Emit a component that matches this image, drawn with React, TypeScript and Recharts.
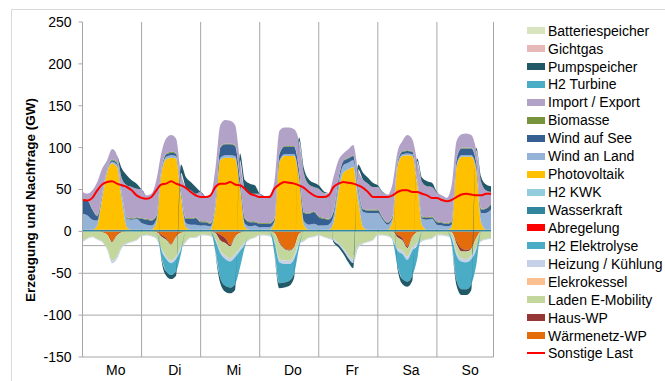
import { Area, CartesianGrid, ComposedChart, Line, XAxis, YAxis } from "recharts"

// hour of week, every 2 hours
const hours = Array.from({ length: 84 }, (_, i) => i * 2)
const dayNames = ["Mo", "Di", "Mi", "Do", "Fr", "Sa", "So"]
const dayLabelTicks = [13.5, 37.5, 61.5, 85.5, 109.5, 133.5, 157.5]
const dayBorders = [0, 24, 48, 72, 96, 120, 144, 167]
const yTicks = [-150, -100, -50, 0, 50, 100, 150, 200, 250]

// GW, one row per day, 0h..22h
const wasserkraft = [
  2, 2, 2, 2, 2, 2, 2, 2, 2, 2, 2, 2,
  2, 2, 2, 2, 2, 2, 2, 2, 2, 2, 2, 2,
  2, 2, 2, 2, 2, 2, 2, 2, 2, 2, 2, 2,
  2, 2, 2, 2, 2, 2, 2, 2, 2, 2, 2, 2,
  2, 2, 2, 2, 2, 2, 2, 2, 2, 2, 2, 2,
  2, 2, 2, 2, 2, 2, 2, 2, 2, 2, 2, 2,
  2, 2, 2, 2, 2, 2, 2, 2, 2, 2, 2, 2,
]
const photovoltaik = [
  0, 0, 0, 5, 37, 68, 79, 75, 35, 3, 0, 0,
  0, 0, 0, 8, 65, 84, 86, 85, 40, 3, 0, 0,
  0, 0, 0, 25, 83, 86, 86, 85, 50, 3, 0, 0,
  0, 0, 0, 8, 80, 88, 88, 88, 60, 5, 0, 0,
  0, 0, 0, 8, 45, 68, 72, 75, 35, 3, 0, 0,
  0, 0, 0, 10, 75, 88, 89, 88, 55, 5, 0, 0,
  0, 0, 0, 3, 75, 87, 87, 87, 70, 8, 0, 0,
]
const windLand = [
  19, 17, 12, 6, 3, 2, 2, 3, 6, 10, 12, 13,
  8, 6, 5, 4, 3, 3, 3, 3, 4, 5, 6, 6,
  5, 5, 4, 3, 3, 3, 3, 3, 3, 4, 4, 5,
  3, 3, 3, 2, 2, 2, 2, 2, 3, 5, 6, 7,
  5, 5, 6, 8, 10, 9, 8, 8, 12, 18, 20, 20,
  20, 12, 6, 4, 3, 2, 2, 2, 4, 8, 12, 13,
  6, 5, 4, 3, 3, 2, 2, 2, 4, 12, 20, 24,
]
const windSee = [
  17, 18, 12, 5, 2, 1, 2, 2, 1, 1, 1, 1,
  5, 6, 6, 4, 2, 3, 3, 3, 3, 5, 7, 8,
  4, 4, 3, 3, 12, 13, 13, 12, 8, 6, 5, 4,
  4, 4, 4, 3, 8, 9, 9, 9, 8, 10, 13, 14,
  10, 8, 6, 5, 5, 5, 5, 5, 4, 3, 3, 3,
  3, 2, 2, 2, 2, 3, 3, 3, 2, 2, 2, 2,
  3, 3, 3, 3, 6, 8, 8, 8, 6, 4, 5, 6,
]
const biomasse = [
  1, 1, 1, 1, 1, 1, 1, 1, 1, 1, 1, 1,
  1, 1, 1, 1, 1, 1, 1, 1, 1, 1, 1, 1,
  1, 1, 1, 1, 1, 1, 1, 1, 1, 1, 1, 1,
  1, 1, 1, 1, 1, 1, 1, 1, 1, 1, 1, 1,
  1, 1, 1, 1, 1, 1, 1, 1, 1, 1, 1, 1,
  1, 1, 1, 1, 1, 1, 1, 1, 1, 1, 1, 1,
  1, 1, 1, 1, 1, 1, 1, 1, 1, 1, 1, 1,
]
const importExport = [
  8, 7, 22, 40, 30, 11, 12, 8, 18, 38, 37, 34,
  34, 28, 31, 42, 20, 18, 20, 17, 20, 37, 33, 28,
  35, 30, 33, 41, 26, 28, 27, 24, 21, 33, 33, 33,
  35, 32, 33, 44, 27, 22, 22, 20, 34, 46, 34, 29,
  33, 30, 30, 41, 22, 8, 10, 12, 20, 35, 31, 27,
  27, 29, 33, 38, 12, 12, 18, 14, 20, 41, 37, 35,
  34, 32, 30, 43, 21, 16, 17, 15, 14, 32, 21, 14,
]
const pumpspeicher = [
  0, 0, 0, 0, 0, 0, 0, 0, 12, 12, 8, 6,
  0, 0, 0, 0, -3, -5, -5, -5, 10, 12, 10, 8,
  0, 0, 0, -2, -6, -7, -7, -7, 8, 12, 12, 10,
  0, 0, 0, -2, -6, -6, -6, -5, 4, 6, 6, 5,
  4, 2, 0, -2, -3, -4, -5, -6, 6, 8, 7, 5,
  2, 1, 0, 0, -4, -6, -6, -6, 3, 5, 6, 5,
  1, 0, 0, -1, -6, -7, -7, -7, 3, 6, 7, 7,
]
const waermenetzWp = [
  0, 0, 0, 0, -1, -4, -12, -4, -1, 0, 0, 0,
  0, 0, 0, -1, -4, -8, -15, -6, -2, 0, 0, 0,
  0, 0, 0, -1, -4, -8, -16, -6, -2, 0, 0, 0,
  0, 0, 0, -2, -12, -20, -22, -18, -3, 0, 0, 0,
  0, 0, 0, 0, 0, 0, 0, 0, 0, 0, 0, 0,
  0, 0, 0, 0, -4, -8, -18, -6, -1, 0, 0, 0,
  0, 0, 0, -1, -12, -20, -22, -20, -8, 0, 0, 0,
]
const hausWp = [
  0, 0, 0, 0, 0, 0, -1, -1, 0, 0, 0, 0,
  0, 0, 0, 0, -2, -2, -1, -1, 0, 0, 0, 0,
  0, 0, 0, -1, -7, -6, -2, -1, 0, 0, 0, 0,
  0, 0, 0, 0, -2, -1, -1, -1, 0, 0, 0, 0,
  0, 0, 0, 0, 0, 0, 0, 0, 0, 0, 0, 0,
  0, 0, 0, 0, -3, -3, -2, -1, 0, 0, 0, 0,
  0, 0, 0, 0, -3, -4, -2, -1, 0, 0, 0, 0,
]
const ladenEMobility = [
  -12, -8, -6, -9, -11, -16, -22, -25, -17, -14, -12, -10,
  -5, -4, -5, -7, -14, -20, -19, -23, -17, -12, -7, -7,
  -4, -4, -5, -7, -12, -15, -14, -20, -18, -13, -9, -7,
  -4, -4, -5, -9, -19, -14, -12, -10, -10, -11, -7, -6,
  -4, -6, -8, -9, -14, -20, -28, -34, -17, -14, -12, -10,
  -4, -4, -5, -9, -13, -12, -10, -12, -13, -11, -9, -8,
  -4, -4, -5, -5, -10, -8, -9, -8, -11, -11, -9, -8,
]
const heizungKuehlung = [
  -1, -1, -1, -1, -1, -2, -3, -3, -2, -1, -1, -1,
  -1, -1, -1, -1, -2, -3, -3, -3, -2, -1, -1, -1,
  -1, -1, -1, -2, -3, -4, -4, -4, -3, -2, -1, -1,
  -1, -1, -1, -2, -4, -4, -4, -4, -2, -1, -1, -1,
  -1, -1, -1, -2, -2, -3, -4, -4, -3, -1, -1, -1,
  -1, -1, -1, -1, -3, -4, -4, -4, -3, -1, -1, -1,
  -1, -1, -1, -2, -4, -4, -4, -4, -3, -1, -1, -1,
]
const h2Elektrolyse = [
  0, 0, 0, 0, 0, 0, 0, 0, 0, 0, 0, 0,
  0, 0, 0, 0, -8, -15, -14, -15, -6, 0, 0, 0,
  0, 0, 0, -12, -30, -32, -31, -32, -20, -3, 0, 0,
  0, 0, 0, -12, -25, -22, -20, -17, -5, 0, 0, 0,
  0, 0, 0, 0, 0, 0, 0, 0, 0, 0, 0, 0,
  0, 0, 0, -1, -18, -30, -26, -30, -16, 0, 0, 0,
  0, 0, 0, -6, -30, -33, -32, -30, -18, 0, 0, 0,
]
const sonstigeLast = [
  37.5, 37, 40, 49, 56, 59, 60, 57, 55, 53, 49, 43,
  40, 39, 41, 49, 56, 57, 60, 57, 55, 52, 47, 43,
  41, 41, 43, 53, 57, 57, 59, 56, 55, 51, 45, 43,
  41, 41, 41, 51, 56, 59, 58, 57, 55, 52, 47, 43,
  41, 41, 43, 53, 57, 59, 58, 57, 55, 52, 47, 41,
  41, 41, 41, 43, 47, 49, 49, 47, 47, 45, 43, 40,
  40, 37.5, 36, 37.5, 41, 44, 45, 44, 43, 43, 45, 45,
]

// drawing order: loads first (stack down from 0), then generation (stack up)
const areas = [
  { key: "waermenetzWp", color: "#e46c0a", values: waermenetzWp },
  { key: "hausWp", color: "#953735", values: hausWp },
  { key: "laden", color: "#c3d69b", values: ladenEMobility },
  { key: "heizung", color: "#c6d1e7", values: heizungKuehlung },
  { key: "h2Elektrolyse", color: "#4bacc6", values: h2Elektrolyse },
  { key: "wasserkraft", color: "#31859c", values: wasserkraft },
  { key: "pv", color: "#ffc000", values: photovoltaik },
  { key: "windLand", color: "#95b3d7", values: windLand },
  { key: "windSee", color: "#376092", values: windSee },
  { key: "biomasse", color: "#77933c", values: biomasse },
  { key: "import", color: "#b3a2c7", values: importExport },
  { key: "pump", color: "#215968", values: pumpspeicher },
]

const legendItems = [
  { name: "Batteriespeicher", color: "#d7e4bd" },
  { name: "Gichtgas", color: "#e6b9b8" },
  { name: "Pumpspeicher", color: "#215968" },
  { name: "H2 Turbine", color: "#4bacc6" },
  { name: "Import / Export", color: "#b3a2c7" },
  { name: "Biomasse", color: "#77933c" },
  { name: "Wind auf See", color: "#376092" },
  { name: "Wind an Land", color: "#95b3d7" },
  { name: "Photovoltaik", color: "#ffc000" },
  { name: "H2 KWK", color: "#93cddd" },
  { name: "Wasserkraft", color: "#31859c" },
  { name: "Abregelung", color: "#ff0000" },
  { name: "H2 Elektrolyse", color: "#4bacc6" },
  { name: "Heizung / Kühlung", color: "#c6d1e7" },
  { name: "Elekrokessel", color: "#fac090" },
  { name: "Laden E-Mobility", color: "#c3d69b" },
  { name: "Haus-WP", color: "#953735" },
  { name: "Wärmenetz-WP", color: "#e46c0a" },
  { name: "Sonstige Last", color: "#ff0000", line: true },
]

const rows = hours.map((h, i) => {
  const row: Record<string, number> = { h, sonstige: sonstigeLast[i] }
  areas.forEach((a) => {
    row[a.key] = a.values[i]
  })
  return row
})

const font = "'Liberation Sans', Arial, sans-serif"
const grid = "#a6a6a6"

export default function App() {
  return (
    <div style={{ position: "absolute", left: 0, top: 0, width: 665, height: 381, background: "#fff", fontFamily: font }}>
      <div style={{ position: "absolute", left: 11, top: 9, width: 654, height: 372, borderLeft: "1px solid #d9d9d9", borderTop: "1px solid #d9d9d9" }} />
      <ComposedChart
        width={665}
        height={381}
        data={rows}
        stackOffset="sign"
        margin={{ top: 22, right: 171.5, bottom: 0, left: 10 }}
      >
        <CartesianGrid stroke={grid} horizontalValues={[...yTicks, -17]} verticalValues={dayBorders} />
        <XAxis
          type="number"
          dataKey="h"
          domain={[0, 167]}
          ticks={dayLabelTicks}
          tickFormatter={(v: number) => dayNames[Math.floor(v / 24)]}
          axisLine={false}
          tickLine={false}
          height={24}
          tick={{ fontSize: 14, fill: "#000", fontFamily: font }}
        />
        <YAxis
          domain={[-150, 250]}
          ticks={yTicks}
          width={72.5}
          axisLine={{ stroke: grid }}
          tickLine={{ stroke: grid }}
          tickSize={4}
          tickMargin={7}
          tick={{ fontSize: 14, fill: "#000", fontFamily: font }}
        />
        {areas.map((a) => (
          <Area
            key={a.key}
            type="monotone"
            dataKey={a.key}
            stackId="a"
            fill={a.color}
            fillOpacity={1}
            stroke="none"
            isAnimationActive={false}
          />
        ))}
        <Line type="monotone" dataKey="sonstige" stroke="#ff0000" strokeWidth={2} dot={false} isAnimationActive={false} />
      </ComposedChart>
      <svg style={{ position: "absolute", left: 0, top: 0 }} width={80} height={381}>
        <text
          x={30}
          y={200}
          transform="rotate(-90 30 200)"
          textAnchor="middle"
          dominantBaseline="central"
          fontWeight="bold"
          fontSize={13.5}
          fontFamily={font}
          fill="#000"
        >
          Erzeugung und Nachfrage (GW)
        </text>
      </svg>
      {legendItems.map((item, i) => {
        const cy = 30.7 + i * 17.93
        return (
          <div key={item.name}>
            <div
              style={{
                position: "absolute",
                left: 527,
                top: item.line ? cy - 1 : cy - 3.5,
                width: 18,
                height: item.line ? 2 : 7,
                background: item.color,
              }}
            />
            <div style={{ position: "absolute", left: 548, top: cy - 8, fontSize: 14, lineHeight: "16px", color: "#000", whiteSpace: "nowrap" }}>
              {item.name}
            </div>
          </div>
        )
      })}
    </div>
  )
}
